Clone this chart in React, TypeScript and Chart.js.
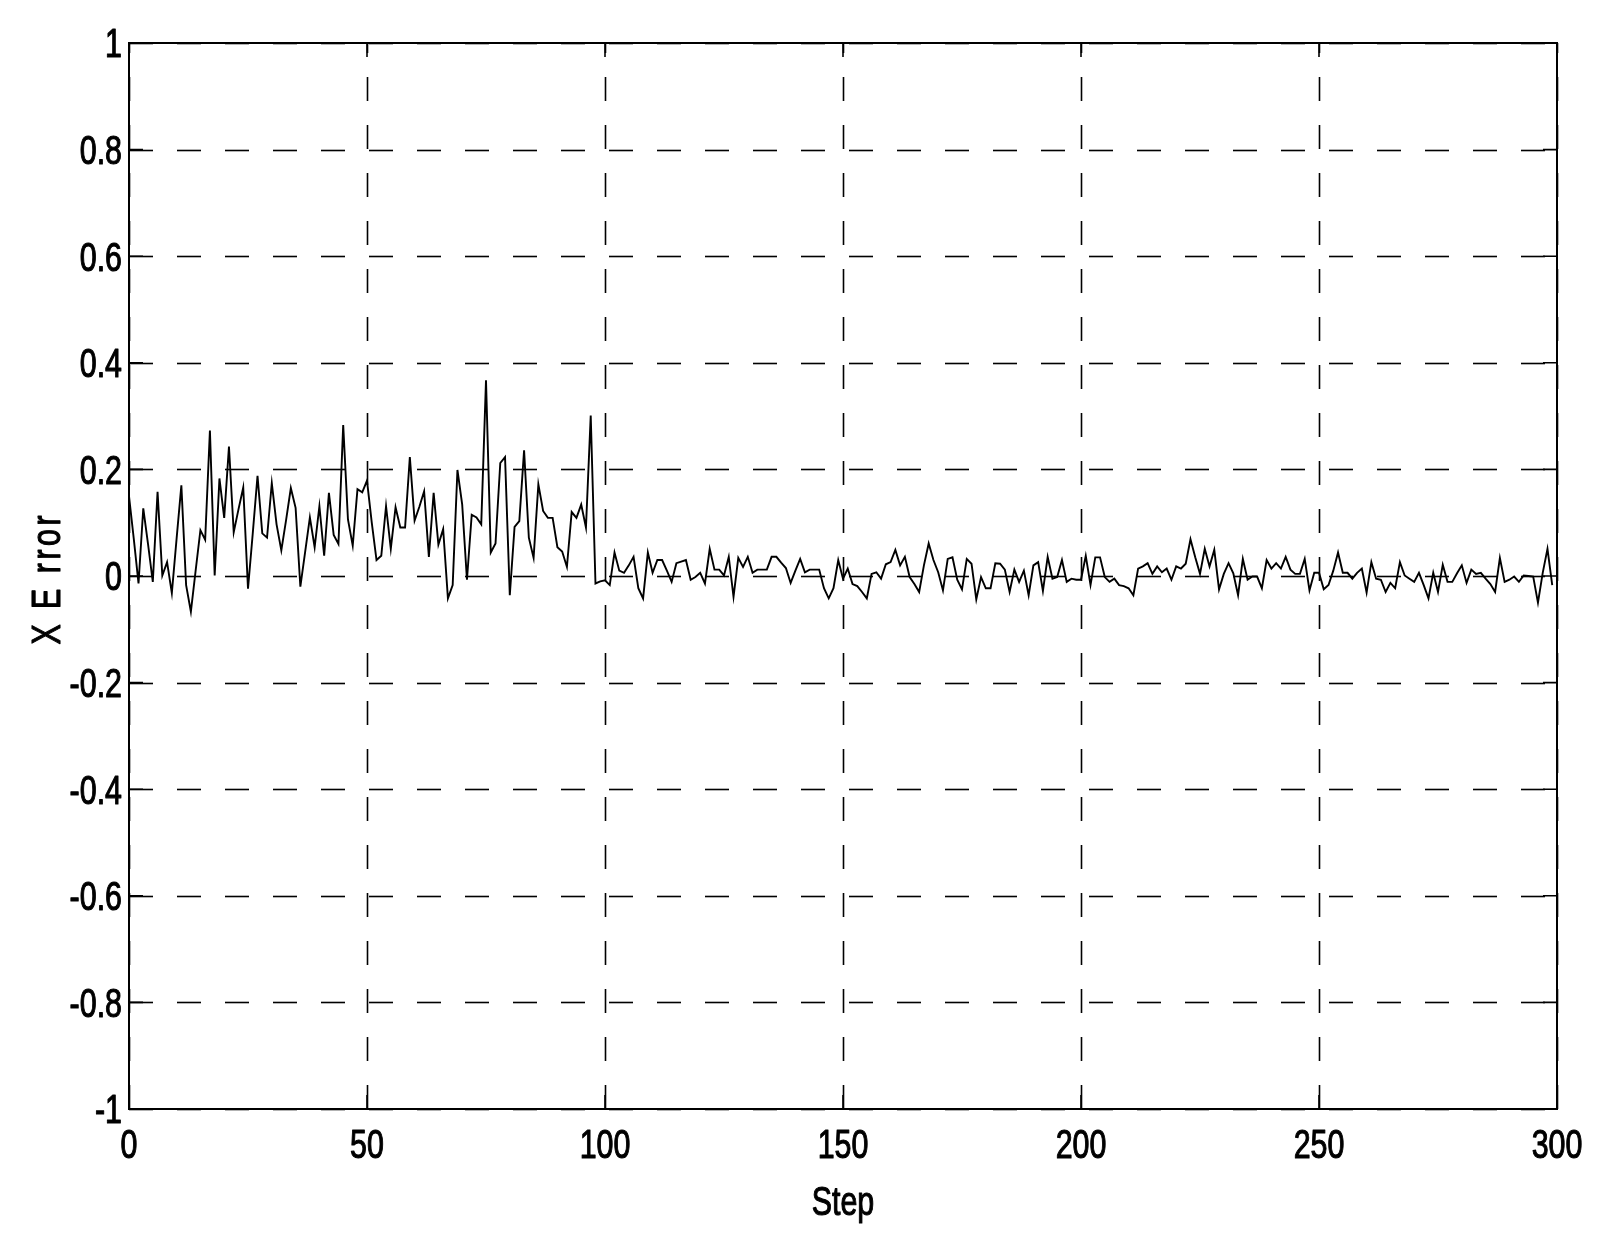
import React, { useEffect, useRef } from "react";
import { Chart, registerables } from "chart.js";

Chart.register(...registerables);

const errorValues: number[] = [
  0.150, 0.07, -0.014, 0.127, 0.06, -0.011, 0.158, 0.001, 0.026, -0.032,
  0.07, 0.170, -0.017, -0.067, 0.01, 0.086, 0.068, 0.273, 0.001, 0.183,
  0.109, 0.243, 0.082, 0.125, 0.166, -0.024, 0.08, 0.188, 0.080, 0.072,
  0.174, 0.097, 0.048, 0.105, 0.165, 0.128, -0.020, 0.045, 0.110, 0.054,
  0.131, 0.038, 0.156, 0.077, 0.060, 0.283, 0.106, 0.057, 0.163, 0.157,
  0.179, 0.10, 0.030, 0.038, 0.131, 0.051, 0.129, 0.091, 0.091, 0.223,
  0.104, 0.13, 0.159, 0.036, 0.156, 0.059, 0.088, -0.042, -0.017, 0.199,
  0.134, -0.007, 0.115, 0.11, 0.097, 0.367, 0.044, 0.061, 0.212, 0.223,
  -0.036, 0.092, 0.103, 0.236, 0.072, 0.034, 0.172, 0.122, 0.109, 0.109,
  0.054, 0.046, 0.017, 0.120, 0.109, 0.134, 0.091, 0.301, -0.014, -0.01,
  -0.008, -0.017, 0.044, 0.010, 0.006, 0.02, 0.036, -0.023, -0.042, 0.044,
  0.006, 0.030, 0.030, 0.01, -0.011, 0.024, 0.027, 0.030, -0.007, -0.002,
  0.006, -0.014, 0.051, 0.012, 0.012, 0.001, 0.036, -0.039, 0.034, 0.017,
  0.036, 0.006, 0.012, 0.012, 0.012, 0.036, 0.036, 0.025, 0.015, -0.013,
  0.01, 0.032, 0.007, 0.012, 0.012, 0.012, -0.023, -0.042, -0.023, 0.030,
  -0.005, 0.014, -0.015, -0.019, -0.03, -0.042, 0.004, 0.007, -0.005, 0.022,
  0.026, 0.049, 0.020, 0.036, -0.002, -0.015, -0.030, 0.02, 0.061, 0.030,
  0.007, -0.027, 0.032, 0.035, -0.007, -0.025, 0.032, 0.023, -0.044, -0.002,
  -0.023, -0.023, 0.024, 0.023, 0.012, -0.030, 0.012, -0.011, 0.010, -0.036,
  0.020, 0.026, -0.028, 0.036, -0.005, -0.002, 0.030, -0.011, -0.005, -0.007,
  -0.007, 0.038, -0.017, 0.035, 0.035, -0.002, -0.011, -0.005, -0.017, -0.019,
  -0.023, -0.036, 0.014, 0.018, 0.024, 0.004, 0.018, 0.007, 0.014, -0.007,
  0.018, 0.014, 0.023, 0.069, 0.035, 0.004, 0.051, 0.018, 0.049, -0.025,
  0.004, 0.024, 0.005, -0.036, 0.032, -0.007, -0.001, -0.001, -0.023, 0.030,
  0.014, 0.024, 0.014, 0.036, 0.012, 0.004, 0.004, 0.032, -0.027, 0.006,
  0.006, -0.025, -0.017, 0.01, 0.044, 0.006, 0.006, -0.005, 0.006, 0.014,
  -0.031, 0.026, -0.005, -0.007, -0.030, -0.013, -0.023, 0.026, 0.001, -0.005,
  -0.011, 0.006, -0.017, -0.042, 0.006, -0.030, 0.021, -0.011, -0.011, 0.005,
  0.020, -0.013, 0.012, 0.004, 0.006, -0.005, -0.015, -0.030, 0.034, -0.011,
  -0.007, -0.001, -0.011, 0.001, 0.0, -0.001, -0.050, 0.006, 0.051, -0.017,
];

const steps: number[] = errorValues.map((_, i) => i);

const xTickLabels: string[] = ["0", "50", "100", "150", "200", "250", "300"];
const yTickLabels: string[] = [
  "-1", "-0.8", "-0.6", "-0.4", "-0.2", "0", "0.2", "0.4", "0.6", "0.8", "1",
];

const xTitle = "Step";
const yTitle = "X E rror";

const W = 1617;
const H = 1249;
const LEFT = 129;
const RIGHT = 1557;
const TOP = 43;
const BOTTOM = 1109;
const FONT_FAMILY = "'Liberation Sans', Arial, sans-serif";
const FONT_SIZE = 40;
const SQUEEZE = 0.76;

function setFont(ctx: CanvasRenderingContext2D) {
  ctx.font = `${FONT_SIZE}px ${FONT_FAMILY}`;
  ctx.fillStyle = "#000";
  ctx.strokeStyle = "#000";
  ctx.lineWidth = 1.1;
  ctx.lineJoin = "round";
  ctx.setLineDash([]);
}

function drawText(
  ctx: CanvasRenderingContext2D,
  text: string,
  x: number,
  y: number,
  align: CanvasTextAlign
) {
  ctx.save();
  ctx.translate(x, y);
  ctx.scale(SQUEEZE, 1);
  setFont(ctx);
  ctx.textAlign = align;
  ctx.textBaseline = "alphabetic";
  ctx.fillText(text, 0, 0);
  ctx.strokeText(text, 0, 0);
  ctx.restore();
}

function drawSpacedVertical(
  ctx: CanvasRenderingContext2D,
  text: string,
  x: number,
  yCenter: number,
  extra: number
) {
  ctx.save();
  ctx.translate(x, yCenter);
  ctx.rotate(-Math.PI / 2);
  ctx.scale(SQUEEZE, 1);
  setFont(ctx);
  ctx.textAlign = "left";
  ctx.textBaseline = "alphabetic";
  const chars = text.split("");
  const ex = extra / SQUEEZE;
  const widths = chars.map((c) => ctx.measureText(c).width);
  const total = widths.reduce((a, b) => a + b, 0) + ex * (chars.length - 1);
  let pos = -total / 2;
  chars.forEach((c, i) => {
    if (c !== " ") {
      ctx.fillText(c, pos, 0);
      ctx.strokeText(c, pos, 0);
    }
    pos += widths[i] + ex;
  });
  ctx.restore();
}

const matlabAxes = {
  id: "matlabAxes",
  beforeDatasetsDraw(chart: any) {
    const { ctx, chartArea } = chart;
    const xs = chart.scales.x;
    const ys = chart.scales.y;
    ctx.save();
    ctx.strokeStyle = "#000";
    ctx.lineWidth = 1.6;
    ctx.setLineDash([24, 24]);
    ctx.lineDashOffset = 0;
    ys.ticks.forEach((t: any) => {
      const py = Math.round(ys.getPixelForValue(t.value)) + 0.5;
      ctx.beginPath();
      ctx.moveTo(chartArea.left, py);
      ctx.lineTo(chartArea.right, py);
      ctx.stroke();
    });
    xs.ticks.forEach((t: any) => {
      const px = Math.round(xs.getPixelForValue(t.value)) + 0.5;
      ctx.beginPath();
      ctx.moveTo(px, chartArea.bottom);
      ctx.lineTo(px, chartArea.top);
      ctx.stroke();
    });
    ctx.restore();
  },
  afterDraw(chart: any) {
    const { ctx, chartArea } = chart;
    const xs = chart.scales.x;
    const ys = chart.scales.y;
    const tl = 14;
    ctx.save();
    ctx.strokeStyle = "#000";
    ctx.setLineDash([]);
    ctx.lineWidth = 2;
    ctx.strokeRect(chartArea.left, chartArea.top, chartArea.right - chartArea.left, chartArea.bottom - chartArea.top);
    ctx.lineWidth = 1.6;
    ctx.beginPath();
    xs.ticks.forEach((t: any) => {
      const px = xs.getPixelForValue(t.value);
      ctx.moveTo(px, chartArea.bottom);
      ctx.lineTo(px, chartArea.bottom - tl);
      ctx.moveTo(px, chartArea.top);
      ctx.lineTo(px, chartArea.top + tl);
    });
    ys.ticks.forEach((t: any) => {
      const py = ys.getPixelForValue(t.value);
      ctx.moveTo(chartArea.left, py);
      ctx.lineTo(chartArea.left + tl, py);
      ctx.moveTo(chartArea.right, py);
      ctx.lineTo(chartArea.right - tl, py);
    });
    ctx.stroke();
    ctx.restore();

    const capHalf = FONT_SIZE * 0.358;
    ys.ticks.forEach((t: any, i: number) => {
      const py = ys.getPixelForValue(t.value);
      drawText(ctx, yTickLabels[i], chartArea.left - 7, py + capHalf, "right");
    });
    xs.ticks.forEach((t: any, i: number) => {
      const px = xs.getPixelForValue(t.value);
      drawText(ctx, xTickLabels[i], px, chartArea.bottom + 49, "center");
    });
    drawText(ctx, xTitle, (chartArea.left + chartArea.right) / 2, chartArea.bottom + 106, "center");
    drawSpacedVertical(ctx, yTitle, 60, (chartArea.top + chartArea.bottom) / 2 + 4, 3.5);
  },
};

export default function App() {
  const ref = useRef<HTMLCanvasElement | null>(null);

  useEffect(() => {
    if (!ref.current) return;
    const chart = new Chart(ref.current, {
      type: "line",
      data: {
        datasets: [
          {
            data: errorValues.map((v, i) => ({ x: steps[i], y: v })),
            borderColor: "#000",
            borderWidth: 1.9,
            pointRadius: 0,
            tension: 0,
            fill: false,
          },
        ],
      },
      options: {
        animation: false,
        responsive: false,
        devicePixelRatio: 1,
        layout: { padding: { left: 0, right: W - RIGHT, top: TOP, bottom: 0 } },
        plugins: {
          legend: { display: false },
          tooltip: { enabled: false },
        },
        scales: {
          x: {
            type: "linear",
            min: 0,
            max: 300,
            afterFit: (s: any) => {
              s.height = H - BOTTOM;
            },
            ticks: { stepSize: 50, display: false, autoSkip: false },
            grid: { display: false },
            border: { display: false },
          },
          y: {
            type: "linear",
            min: -1,
            max: 1,
            afterFit: (s: any) => {
              s.width = LEFT;
            },
            ticks: { stepSize: 0.2, display: false, autoSkip: false },
            grid: { display: false },
            border: { display: false },
          },
        },
      },
      plugins: [matlabAxes],
    });
    return () => chart.destroy();
  }, []);

  return (
    <div style={{ position: "absolute", left: 0, top: 0, width: W, height: H, background: "#fff" }}>
      <canvas ref={ref} width={W} height={H} style={{ width: W, height: H, display: "block" }} />
    </div>
  );
}
